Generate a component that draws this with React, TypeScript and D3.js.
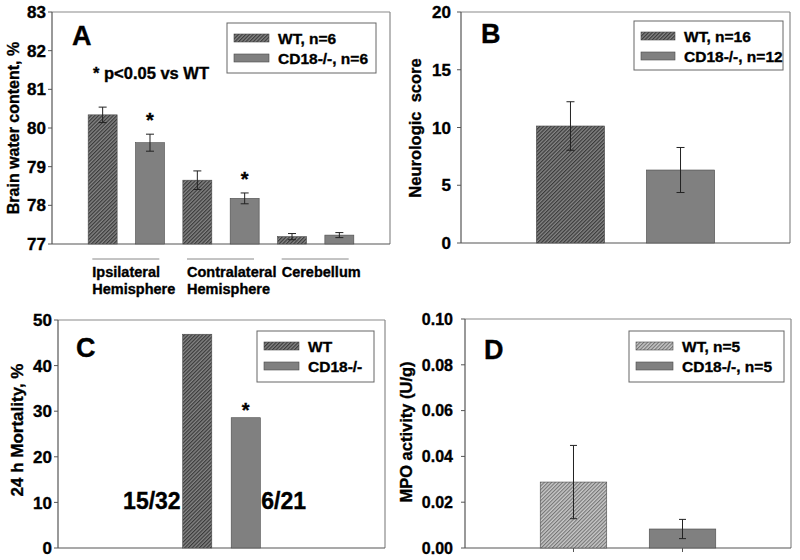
import React from "react";
import * as d3 from "d3";

// ---------- data ----------
const groupLabelsA = [["Ipsilateral", "Hemisphere"], ["Contralateral", "Hemisphere"], ["Cerebellum"]];
const seriesA = ["WT, n=6", "CD18-/-, n=6"];
const wtA = [80.34, 78.65, 77.19];
const wtErrA = [0.2, 0.24, 0.08];
const cdA = [79.62, 78.18, 77.23];
const cdErrA = [0.22, 0.14, 0.065];
const sigA = [true, true, false];
const ticksA = [77, 78, 79, 80, 81, 82, 83];

const seriesB = ["WT, n=16", "CD18-/-, n=12"];
const valuesB = [10.13, 6.32];
const errB = [2.1, 1.95];
const ticksB = [0, 5, 10, 15, 20];

const seriesC = ["WT", "CD18-/-"];
const valuesC = [46.875, 28.57];
const countsC = ["15/32", "6/21"];
const sigC = [false, true];
const ticksC = [0, 10, 20, 30, 40, 50];

const seriesD = ["WT, n=5", "CD18-/-, n=5"];
const valuesD = [0.0288, 0.0083];
const errD = [0.016, 0.0042];
const ticksD = [0, 0.02, 0.04, 0.06, 0.08, 0.1];

const FONT = "'Liberation Sans', Arial, Helvetica, sans-serif";
const AXIS = "#555";
const FRAME = "#8a8a8a";
const SOLID = "#808080";
const BAR_STROKE = "#4a4a4a";
const TS = { stroke: "#000", strokeWidth: 0.35 };

type Box = { x0: number; x1: number; y0: number; y1: number };

function Frame({ b }: { b: Box }) {
  return (
    <g>
      <line x1={b.x0} x2={b.x1} y1={b.y0} y2={b.y0} stroke={FRAME} strokeWidth={1.2} />
      <line x1={b.x1} x2={b.x1} y1={b.y0} y2={b.y1} stroke={FRAME} strokeWidth={1.2} />
      <line x1={b.x0} x2={b.x1} y1={b.y1} y2={b.y1} stroke={AXIS} strokeWidth={1.2} />
      <line x1={b.x0} x2={b.x0} y1={b.y0} y2={b.y1} stroke={AXIS} strokeWidth={1.2} />
    </g>
  );
}

function YAxis({ b, y, ticks, fmt, gap, fs }: { b: Box; y: d3.ScaleLinear<number, number>; ticks: number[]; fmt: (v: number) => string; gap: number; fs: number }) {
  return (
    <g>
      {ticks.map((t) => (
        <g key={t}>
          <line x1={b.x0 - 4} x2={b.x0} y1={y(t)} y2={y(t)} stroke={AXIS} strokeWidth={1} />
          <text x={b.x0 - gap} y={y(t)} dy="0.36em" textAnchor="end" fontFamily={FONT} fontWeight="bold" fontSize={fs} fill="#000" {...TS}>
            {fmt(t)}
          </text>
        </g>
      ))}
    </g>
  );
}

function YTitle({ x, y, text, fs }: { x: number; y: number; text: string; fs: number }) {
  return (
    <text transform={`translate(${x},${y}) rotate(-90)`} textAnchor="middle" dy="0.36em" fontFamily={FONT} fontWeight="bold" fontSize={fs} fill="#000" {...TS} style={{ whiteSpace: "pre" }}>
      {text}
    </text>
  );
}

function Legend({ x, y, w, h, labels, fills, sw }: { x: number; y: number; w: number; h: number; labels: string[]; fills: string[]; sw: number }) {
  return (
    <g>
      <rect x={x} y={y} width={w} height={h} fill="white" stroke="#666" strokeWidth={1} />
      {labels.map((l, i) => {
        const cy = y + 15 + i * 20;
        return (
          <g key={l}>
            <rect x={x + 7} y={cy - 4} width={sw} height={8} fill={fills[i]} stroke={BAR_STROKE} strokeWidth={0.6} />
            <text x={x + sw + 16} y={cy} dy="0.36em" fontFamily={FONT} fontWeight="bold" fontSize={15.5} fill="#000" {...TS}>
              {l}
            </text>
          </g>
        );
      })}
    </g>
  );
}

function ErrBar({ x, y, yLo, cap }: { x: number; y: number; yLo: number; cap: number }) {
  return (
    <g stroke="#222" strokeWidth={1}>
      <line x1={x} x2={x} y1={y} y2={yLo} />
      <line x1={x - cap} x2={x + cap} y1={y} y2={y} />
      <line x1={x - cap} x2={x + cap} y1={yLo} y2={yLo} />
    </g>
  );
}

function PanelLetter({ x, y, t }: { x: number; y: number; t: string }) {
  return (
    <text x={x} y={y} fontFamily={FONT} fontWeight="bold" fontSize={27} fill="#000" {...TS}>
      {t}
    </text>
  );
}

export default function App() {
  // ---- Panel A ----
  const bA: Box = { x0: 52, x1: 390, y0: 12, y1: 244 };
  const yA = d3.scaleLinear().domain([77, 83]).range([bA.y1, bA.y0]);
  const gA = d3.scaleBand<number>().domain(d3.range(groupLabelsA.length)).range([bA.x0, bA.x1]).paddingInner(0).paddingOuter(0.285);
  const sA = d3.scaleBand<number>().domain([0, 1]).range([0, gA.bandwidth()]).paddingInner(0.388).paddingOuter(0.194);
  const seriesValsA = [wtA, cdA];
  const seriesErrA = [wtErrA, cdErrA];

  // ---- Panel B ----
  const bB: Box = { x0: 461, x1: 790, y0: 12, y1: 243 };
  const yB = d3.scaleLinear().domain([0, 20]).range([bB.y1, bB.y0]);
  const xB = d3.scaleBand<number>().domain([0, 1]).range([bB.x0, bB.x1]).paddingInner(0.38).paddingOuter(0.685);

  // ---- Panel C ----
  const bC: Box = { x0: 58, x1: 385, y0: 320, y1: 548 };
  const yC = d3.scaleLinear().domain([0, 50]).range([bC.y1, bC.y0]);
  const xC = d3.scaleBand<number>().domain([0, 1]).range([bC.x0, bC.x1]).paddingInner(0.4).paddingOuter(2.57);

  // ---- Panel D ----
  const bD: Box = { x0: 465, x1: 791, y0: 319, y1: 548 };
  const yD = d3.scaleLinear().domain([0, 0.1]).range([bD.y1, bD.y0]);
  const xD = d3.scaleBand<number>().domain([0, 1]).range([bD.x0, bD.x1]).paddingInner(0.39).paddingOuter(0.69);

  const fillsDark = ["url(#hatchDark)", SOLID];
  const fillsLight = ["url(#hatchLight)", SOLID];

  return (
    <svg width={800} height={560} style={{ position: "absolute", left: 0, top: 0, background: "white" }}>
      <defs>
        <pattern id="hatchDark" width="2.6" height="2.6" patternUnits="userSpaceOnUse" patternTransform="rotate(45)">
          <rect width="2.6" height="2.6" fill="#858585" />
          <line x1="0.6" y1="0" x2="0.6" y2="2.6" stroke="#3a3a3a" strokeWidth="1.2" />
        </pattern>
        <pattern id="hatchLight" width="2.6" height="2.6" patternUnits="userSpaceOnUse" patternTransform="rotate(45)">
          <rect width="2.6" height="2.6" fill="#c8c8c8" />
          <line x1="0.6" y1="0" x2="0.6" y2="2.6" stroke="#6a6a6a" strokeWidth="1" />
        </pattern>
      </defs>
      <rect x={0} y={0} width={800} height={560} fill="white" />

      {/* ===== Panel A ===== */}
      <Frame b={bA} />
      <YAxis b={bA} y={yA} ticks={ticksA} fmt={(v) => String(v)} gap={6} fs={17} />
      <YTitle x={13} y={128} text="Brain water content, %" fs={16} />
      <PanelLetter x={72} y={45} t="A" />
      <text x={93} y={79} fontFamily={FONT} fontWeight="bold" fontSize={16.5} fill="#000" {...TS}>* p&lt;0.05 vs WT</text>
      {groupLabelsA.map((lbls, gi) => {
        const g0 = gA(gi)!;
        const gc = g0 + gA.bandwidth() / 2;
        return (
          <g key={gi}>
            {[0, 1].map((si) => {
              const v = seriesValsA[si][gi];
              const e = seriesErrA[si][gi];
              const x = g0 + sA(si)!;
              const w = sA.bandwidth();
              return (
                <g key={si}>
                  <rect x={x} y={yA(v)} width={w} height={bA.y1 - yA(v)} fill={fillsDark[si]} stroke={BAR_STROKE} strokeWidth={0.6} />
                  <ErrBar x={x + w / 2} y={yA(v + e)} yLo={yA(v - e)} cap={4} />
                  {si === 1 && sigA[gi] ? (
                    <text x={x + w / 2} y={yA(v + e) - 7} textAnchor="middle" fontFamily={FONT} fontWeight="bold" fontSize={20} fill="#000" {...TS}>*</text>
                  ) : null}
                </g>
              );
            })}
            <line x1={gc - 34} x2={gc + 33} y1={259} y2={259} stroke="#888" strokeWidth={1} />
            {lbls.map((l, li) => (
              <text key={li} x={gc - 34} y={277 + li * 17} fontFamily={FONT} fontWeight="bold" fontSize={14.5} fill="#000" {...TS}>{l}</text>
            ))}
          </g>
        );
      })}
      <Legend x={227} y={23} w={149} h={50} labels={seriesA} fills={fillsDark} sw={35} />

      {/* ===== Panel B ===== */}
      <Frame b={bB} />
      <YAxis b={bB} y={yB} ticks={ticksB} fmt={(v) => String(v)} gap={10} fs={17} />
      <YTitle x={415} y={128} text="Neurologic  score" fs={16.5} />
      <PanelLetter x={481} y={43} t="B" />
      {valuesB.map((v, i) => {
        const x = xB(i)!;
        const w = xB.bandwidth();
        return (
          <g key={i}>
            <rect x={x} y={yB(v)} width={w} height={bB.y1 - yB(v)} fill={fillsDark[i]} stroke={BAR_STROKE} strokeWidth={0.6} />
            <ErrBar x={x + w / 2} y={yB(v + errB[i])} yLo={yB(v - errB[i])} cap={4} />
          </g>
        );
      })}
      <Legend x={634} y={21} w={149} h={49} labels={seriesB} fills={fillsDark} sw={34} />

      {/* ===== Panel C ===== */}
      <Frame b={bC} />
      <YAxis b={bC} y={yC} ticks={ticksC} fmt={(v) => String(v)} gap={6} fs={17} />
      <YTitle x={17} y={430} text="24 h Mortality, %" fs={17} />
      <PanelLetter x={76} y={357} t="C" />
      {valuesC.map((v, i) => {
        const x = xC(i)!;
        const w = xC.bandwidth();
        return (
          <g key={i}>
            <rect x={x} y={yC(v)} width={w} height={bC.y1 - yC(v)} fill={fillsDark[i]} stroke={BAR_STROKE} strokeWidth={0.6} />
            {sigC[i] ? (
              <text x={x + w / 2} y={yC(v) - 1} textAnchor="middle" fontFamily={FONT} fontWeight="bold" fontSize={20} fill="#000" {...TS}>*</text>
            ) : null}
            <text
              x={i === 0 ? x - 2 : x + w + 1}
              y={509}
              textAnchor={i === 0 ? "end" : "start"}
              fontFamily={FONT}
              fontWeight="bold"
              fontSize={23}
              fill="#000"
              {...TS}
            >
              {countsC[i]}
            </text>
          </g>
        );
      })}
      <Legend x={257} y={331} w={117} h={51} labels={seriesC} fills={fillsDark} sw={35} />

      {/* ===== Panel D ===== */}
      <Frame b={bD} />
      <YAxis b={bD} y={yD} ticks={ticksD} fmt={d3.format(".2f")} gap={12} fs={16} />
      <YTitle x={406} y={432} text="MPO activity (U/g)" fs={16.5} />
      <PanelLetter x={484} y={359} t="D" />
      {valuesD.map((v, i) => {
        const x = xD(i)!;
        const w = xD.bandwidth();
        return (
          <g key={i}>
            <rect x={x} y={yD(v)} width={w} height={bD.y1 - yD(v)} fill={fillsLight[i]} stroke={BAR_STROKE} strokeWidth={0.6} />
            <ErrBar x={x + w / 2} y={yD(v + errD[i])} yLo={yD(v - errD[i])} cap={3.5} />
            <line x1={x + w / 2} x2={x + w / 2} y1={bD.y1} y2={bD.y1 + 4} stroke={AXIS} strokeWidth={1} />
          </g>
        );
      })}
      <Legend x={629} y={331} w={155} h={51} labels={seriesD} fills={fillsLight} sw={37} />
    </svg>
  );
}
